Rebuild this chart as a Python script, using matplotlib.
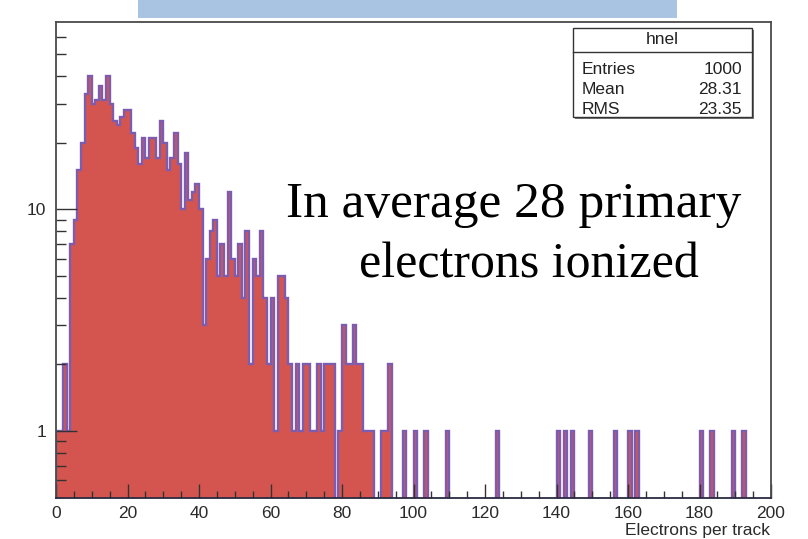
import numpy as np
import matplotlib.pyplot as plt
from matplotlib.patches import Rectangle
from matplotlib.lines import Line2D

# ------------------------------------------------------------
# Histogram content: number of primary electrons per track
# one bin per electron count, 0..200
# ------------------------------------------------------------
counts_low = [
    1, 1, 2, 1, 7, 9, 15, 20, 33, 40,
    30, 31, 36, 31, 40, 30, 25, 24, 26, 28,
    28, 22, 19, 16, 21, 17, 21, 21, 17, 25,
    20, 15, 17, 22, 16, 10, 18, 11, 12, 13,
    10, 3, 6, 8, 9, 5, 7, 5, 12, 6,
    5, 7, 4, 8, 2, 6, 5, 8, 4, 2,
    4, 1, 5, 5, 4, 2, 1, 2, 1, 2,
    2, 1, 1, 2, 1, 2, 2, 2, 0, 1,
    3, 2, 2, 3, 2, 2, 1, 1, 1, 0,
    0, 1, 1, 2, 0, 0, 0,
]
# isolated single entries in the long tail
tail_bins = [97, 100, 103, 109, 123, 140, 142, 144, 149, 156,
             160, 162, 180, 183, 189, 192]

hist_name = "hnel"
stat_labels = ["Entries", "Mean", "RMS"]
stat_values = ["1000", "28.31", "23.35"]

x_title = "Electrons per track"
note_lines = ["In average 28 primary", "electrons ionized"]

N_BINS = 200
edges = np.arange(0, N_BINS + 1)
counts = np.zeros(N_BINS)
counts[:len(counts_low)] = counts_low
counts[tail_bins] += 1

# empty bins pushed far below the frame so the outline drops out of view
FLOOR = 1e-2
shown = np.where(counts > 0, counts, FLOOR)

# ------------------------------------------------------------
# Figure geometry in pixels
# ------------------------------------------------------------
W, H = 808, 539


def fx(px):
    return px / W


def fy(py):
    return 1 - py / H


plt.rcParams.update({
    "font.family": ["Liberation Sans", "DejaVu Sans"],
    "figure.facecolor": "white",
    "axes.facecolor": "white",
})

fig = plt.figure(figsize=(W / 100, H / 100), dpi=100)

FRAME_L, FRAME_R, FRAME_T, FRAME_B = 56, 771, 22, 498
ax = fig.add_axes([fx(FRAME_L), fy(FRAME_B),
                   (FRAME_R - FRAME_L) / W, (FRAME_B - FRAME_T) / H])

RED = "#d4554f"
LINE = "#7d5cb0"

ax.stairs(shown, edges, fill=True, baseline=FLOOR, color=RED, lw=0)
ax.stairs(shown, edges, baseline=FLOOR, color=LINE, lw=1.7)

ax.set_yscale("log")
ax.set_xlim(0, 200)
ax.set_ylim(0.5, 70)

# ROOT-like ticks: inside, bottom and left only
ax.set_xticks(np.arange(0, 201, 20))
ax.set_xticks(np.arange(0, 201, 5), minor=True)
ax.set_yticks([1, 10])
ax.set_yticklabels(["1", "10"])
ax.set_yticks([0.6, 0.7, 0.8, 0.9] + list(range(2, 10)) + [20, 30, 40, 50, 60],
              minor=True)
ax.yaxis.set_minor_formatter(plt.NullFormatter())

ax.tick_params(axis="both", which="both", direction="in",
               top=False, right=False, color="#333333", width=1.0,
               labelcolor="#2a2a2a", labelsize=12.5)
ax.tick_params(axis="x", which="major", length=10, pad=6)
ax.tick_params(axis="x", which="minor", length=5)
ax.tick_params(axis="y", which="major", length=15, pad=7)
ax.tick_params(axis="y", which="minor", length=7.5)

for side in ["top", "right", "left", "bottom"]:
    ax.spines[side].set_color("#4a4a4a")
    ax.spines[side].set_linewidth(1.3)
ax.spines["bottom"].set_color("#2a2a40")

fig.text(fx(770), fy(530), x_title, ha="right", va="center",
         fontsize=12.5, color="#2a2a2a")

# ------------------------------------------------------------
# Statistics box
# ------------------------------------------------------------
BOX_L, BOX_R, BOX_T, BOX_B = 573, 752, 28, 117
fig.add_artist(Rectangle((fx(BOX_L + 2), fy(BOX_B + 2)),
                         (BOX_R - BOX_L) / W, (BOX_B - BOX_T) / H,
                         transform=fig.transFigure, facecolor="#777777",
                         edgecolor="none", zorder=5))
fig.add_artist(Rectangle((fx(BOX_L), fy(BOX_B)),
                         (BOX_R - BOX_L) / W, (BOX_B - BOX_T) / H,
                         transform=fig.transFigure, facecolor="white",
                         edgecolor="#333333", lw=1.0, zorder=6))
fig.add_artist(Line2D([fx(BOX_L), fx(BOX_R)], [fy(51.5), fy(51.5)],
                      transform=fig.transFigure, color="#333333", lw=1.0,
                      zorder=7))
fig.text(fx((BOX_L + BOX_R) / 2), fy(40), hist_name, ha="center",
         va="center", fontsize=12.5, color="#222222", zorder=8)
for i, (lab, val) in enumerate(zip(stat_labels, stat_values)):
    ypix = 70 + 19.5 * i
    fig.text(fx(582), fy(ypix), lab, ha="left", va="center",
             fontsize=12.5, color="#222222", zorder=8)
    fig.text(fx(742), fy(ypix), val, ha="right", va="center",
             fontsize=12.5, color="#222222", zorder=8)

# ------------------------------------------------------------
# Annotation and banner strip at the top
# ------------------------------------------------------------
fig.text(fx(514), fy(217), note_lines[0], ha="center", va="baseline",
         fontsize=37, family="Liberation Serif", color="black")
fig.text(fx(529), fy(278), note_lines[1], ha="center", va="baseline",
         fontsize=36, family="Liberation Serif", color="black")

fig.add_artist(Rectangle((fx(138), fy(18)), (677 - 138) / W, 18 / H,
                         transform=fig.transFigure, facecolor="#a9c4e3",
                         edgecolor="none"))

fig.savefig("out.png", dpi=100)
